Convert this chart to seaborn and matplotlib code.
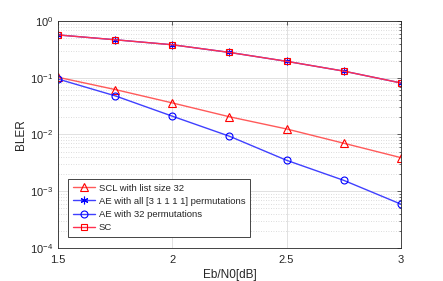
import numpy as np
import pandas as pd
import matplotlib
matplotlib.use('Agg')
import matplotlib.pyplot as plt
import seaborn as sns
from matplotlib.ticker import LogLocator, NullFormatter

ebn0 = [1.5, 1.75, 2.0, 2.25, 2.5, 2.75, 3.0]
scl32 = [0.102, 0.062, 0.036, 0.0205, 0.0125, 0.0070, 0.0039]
ae_all = [0.57, 0.468, 0.382, 0.28, 0.195, 0.131, 0.081]
ae32 = [0.095, 0.048, 0.021, 0.0093, 0.0035, 0.00155, 0.00059]
sc = [0.57, 0.468, 0.382, 0.28, 0.195, 0.131, 0.081]

labels = ['SCL with list size 32', 'AE with all [3 1 1 1 1] permutations',
          'AE with 32 permutations', 'SC']

sns.set_style('white')
plt.rcParams['font.family'] = ['Liberation Sans', 'DejaVu Sans']

fig = plt.figure(figsize=(4.43, 2.81), dpi=100)
ax = fig.add_axes([0.131, 0.118, 0.774, 0.807])

# series: values, line colour, marker, marker colour, size
series = [
    (scl32, '#ff5a5a', '^', '#ff0000', 5.5),
    (ae_all, '#4040ff', (6, 2, 0), '#0000ff', 5.5),
    (ae32, '#4040ff', 'o', '#0000ff', 5),
    (sc, '#ff3050', 's', '#ff0000', 4.5),
]
for (vals, lc, mk, mc, ms), lab in zip(series, labels):
    df = pd.DataFrame({'x': ebn0, 'y': vals})
    sns.lineplot(data=df, x='x', y='y', ax=ax, color=lc, lw=1.0,
                 marker=mk, markersize=ms, markerfacecolor='none',
                 markeredgecolor=mc, markeredgewidth=0.8, label=lab)

ax.set_yscale('log')
ax.set_xlim(1.5, 3)
ax.set_ylim(1e-4, 1)
ax.set_xticks([1.5, 2, 2.5, 3])
ax.set_xticklabels(['1.5', '2', '2.5', '3'])
ax.yaxis.set_major_locator(LogLocator(base=10, numticks=10))
ax.yaxis.set_minor_locator(LogLocator(base=10, subs=np.arange(2, 10), numticks=20))
ax.yaxis.set_minor_formatter(NullFormatter())

ax.grid(True, which='major', color='#dcdcdc', lw=0.6, ls='-')
ax.grid(True, which='minor', axis='y', color='#d0d0d0', lw=0.6, ls=(0, (1, 2)))
ax.set_axisbelow(True)

for s in ax.spines.values():
    s.set_color('#262626')
    s.set_linewidth(0.6)
ax.tick_params(which='both', direction='in', top=True, right=True,
               colors='#262626', labelsize=8, width=0.5)
ax.tick_params(which='major', length=3)
ax.tick_params(which='minor', length=1.5)
ax.tick_params(axis='x', pad=5)

ax.set_xlabel('Eb/N0[dB]', fontsize=8.5, color='#262626', labelpad=3)
ax.set_ylabel('BLER', fontsize=8.5, color='#262626', labelpad=2)

leg = ax.legend(loc='lower left', bbox_to_anchor=(0.03, 0.05), fontsize=6.8,
                frameon=True, fancybox=False, framealpha=1, edgecolor='#262626',
                handlelength=2.4, borderpad=0.45, labelspacing=0.45,
                handletextpad=0.4, borderaxespad=0)
leg.get_frame().set_linewidth(0.6)

fig.savefig('out.png', dpi=100)
